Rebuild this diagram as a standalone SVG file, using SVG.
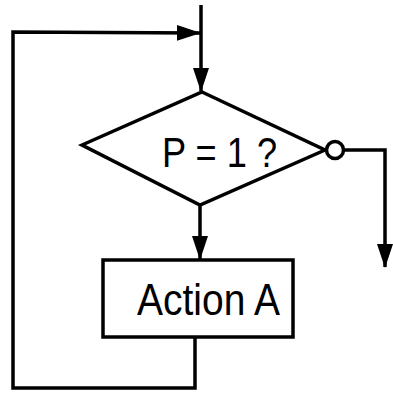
<svg xmlns="http://www.w3.org/2000/svg" width="393" height="398" viewBox="0 0 393 398">
<style>
.ln{fill:none;stroke:#000;stroke-width:3.5;stroke-linejoin:miter}
.shape{fill:#fff;stroke:#000;stroke-width:3.5}
.t{font-family:"Liberation Sans",Arial,sans-serif;fill:#000}
</style>
<defs>
<marker id="ah" markerUnits="userSpaceOnUse" markerWidth="24" markerHeight="18" refX="23" refY="9" orient="auto">
<path d="M0,1 L24,9 L0,17 Z" fill="#000"/>
</marker>
</defs>
<rect width="393" height="398" fill="#fff"/>
<g id="connectors">
<path class="ln" d="M201,5 L201,91" marker-end="url(#ah)"/>
<path class="ln" d="M195,337 L195,388 L13,388 L13,32 L200,33" marker-end="url(#ah)"/>
<path class="ln" d="M200,205 L200,259" marker-end="url(#ah)"/>
<path class="ln" d="M344,150 L385,150 L385,267" marker-end="url(#ah)"/>
</g>
<g id="decision">
<polygon class="shape" points="202,92 325,150 200,205 82,145"/>
<text class="t" x="162" y="167" font-size="43" textLength="115" lengthAdjust="spacingAndGlyphs" xml:space="preserve">P = 1 ?</text>
</g>
<g id="no-exit">
<circle class="shape" cx="335" cy="150" r="8.5"/>
</g>
<g id="action">
<rect class="shape" x="103" y="260" width="190" height="77"/>
<text class="t" x="137" y="315" font-size="44" textLength="143" lengthAdjust="spacingAndGlyphs">Action A</text>
</g>
</svg>
